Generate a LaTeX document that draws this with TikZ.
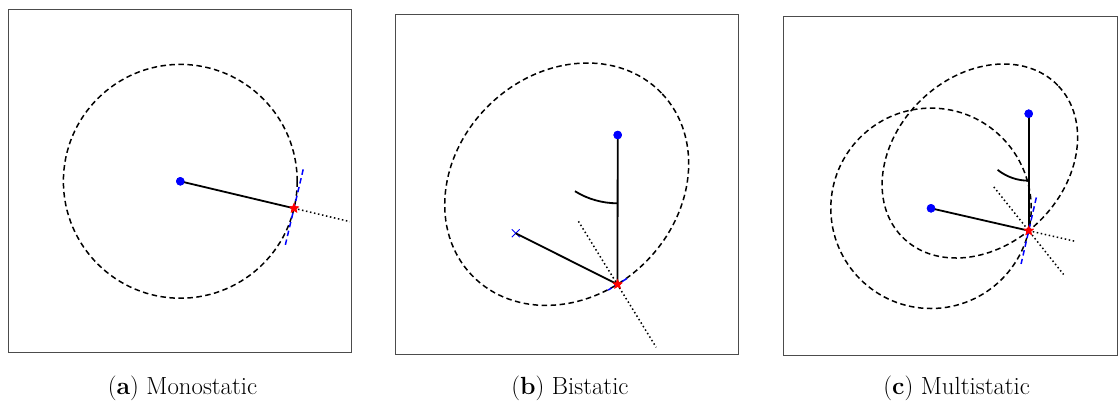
\documentclass[tikz,border=0pt]{standalone}
\usetikzlibrary{shapes.geometric,shapes.misc}
\begin{document}
\begin{tikzpicture}[x=1pt,y=-1pt,
  frame/.style={draw=black!70,line width=0.9pt},
  contour/.style={draw=black,line width=1.5pt,dash pattern=on 5.5pt off 3.5pt},
  ray/.style={draw=black,line width=1.8pt},
  normal/.style={draw=black,line width=1.5pt,dash pattern=on 1.5pt off 2.6pt},
  tangent/.style={draw=blue,line width=1.5pt,dash pattern=on 5.5pt off 3.5pt},
  angarc/.style={draw=black,line width=1.8pt},
  station/.style={circle,fill=blue,inner sep=0pt,minimum size=8.5pt},
  rxcross/.style={cross out,draw=blue,inner sep=0pt,minimum size=7pt,line width=0.9pt},
  target/.style={star,star points=5,star point ratio=2.2,fill=red,inner sep=0pt,minimum size=11pt},
  caption/.style={anchor=base,font=\fontsize{24.8}{30}\selectfont}]
\useasboundingbox (0,0) rectangle (1118,400);

% ---------- (a) Monostatic ----------
\draw[frame] (8.5,9.5) rectangle (351.5,352.5);
\draw[contour] (180.3,181.3) circle[radius=116.9pt];
\coordinate (a-out) at (349.9,221.6);
\coordinate (a-t1) at (303.2,169.4);
\coordinate (a-t2) at (284.8,247.2);
\node[station] (a-tx) at (180.3,181.3) {};
\node[target] (a-tg) at (294,208.3) {};
\draw[ray] (a-tx.center) -- (a-tg.center);
\draw[normal] (a-tg.center) -- (a-out);
\draw[tangent] (a-t1) -- (a-t2);
\node[station] at (a-tx) {};
\node[target] at (a-tg) {};
\node[caption] (a-cap) at (182.5,394) {(\textbf{a}) Monostatic};

% ---------- (b) Bistatic ----------
\draw[frame] (395.5,14) rectangle (738.5,354);
\draw[contour,rotate around={43.9:(566.7,184.2)}] (566.7,184.2) ellipse[x radius=131.5pt,y radius=110.8pt];
\node[station] (b-tx) at (617.7,135) {};
\node[rxcross] (b-rx) at (515.7,233.3) {};
\node[target] (b-tg) at (617.5,284.3) {};
\coordinate (b-n1) at (578.4,221.3);
\coordinate (b-n2) at (656.2,347.3);
\coordinate (b-t1) at (626.9,278.5);
\coordinate (b-t2) at (608.1,290.1);
\draw[ray] (b-tx.center) -- (b-tg.center);
\draw[ray] (b-rx.center) -- (b-tg.center);
\draw[normal] (b-n1) -- (b-n2);
\draw[angarc] (b-tg.center) ++(-90:81) arc[start angle=-90,end angle=-121.7,radius=81pt];
\draw[tangent] (b-t1) -- (b-t2);
\node[station] at (b-tx) {};
\node[target] at (b-tg) {};
\node[caption] (b-cap) at (570,394) {(\textbf{b}) Bistatic};

% ---------- (c) Multistatic ----------
\draw[frame] (783.5,16) rectangle (1117.5,355);
\draw[contour] (931,208.3) circle[radius=100.2pt];
\draw[contour,rotate around={44.1:(979.85,161)}] (979.85,161) ellipse[x radius=108.6pt,y radius=84.7pt];
\node[station] (c-tx) at (1028.7,113.7) {};
\node[station] (c-mo) at (931,208.3) {};
\node[target] (c-tg) at (1028.7,230.7) {};
\coordinate (c-n1) at (993.8,186.9);
\coordinate (c-n2) at (1063.6,274.5);
\coordinate (c-out) at (1075.1,241.3);
\coordinate (c-t1) at (1036.3,197.5);
\coordinate (c-t2) at (1021.1,263.9);
\draw[ray] (c-tx.center) -- (c-tg.center);
\draw[ray] (c-mo.center) -- (c-tg.center);
\draw[normal] (c-n1) -- (c-n2);
\draw[normal] (c-tg.center) -- (c-out);
\draw[angarc] (c-tg.center) ++(-90:50) arc[start angle=-90,end angle=-128.5,radius=50pt];
\draw[tangent] (c-t1) -- (c-t2);
\node[station] at (c-tx) {};
\node[station] at (c-mo) {};
\node[target] at (c-tg) {};
\node[caption] (c-cap) at (956.7,394) {(\textbf{c}) Multistatic};
\end{tikzpicture}
\end{document}
